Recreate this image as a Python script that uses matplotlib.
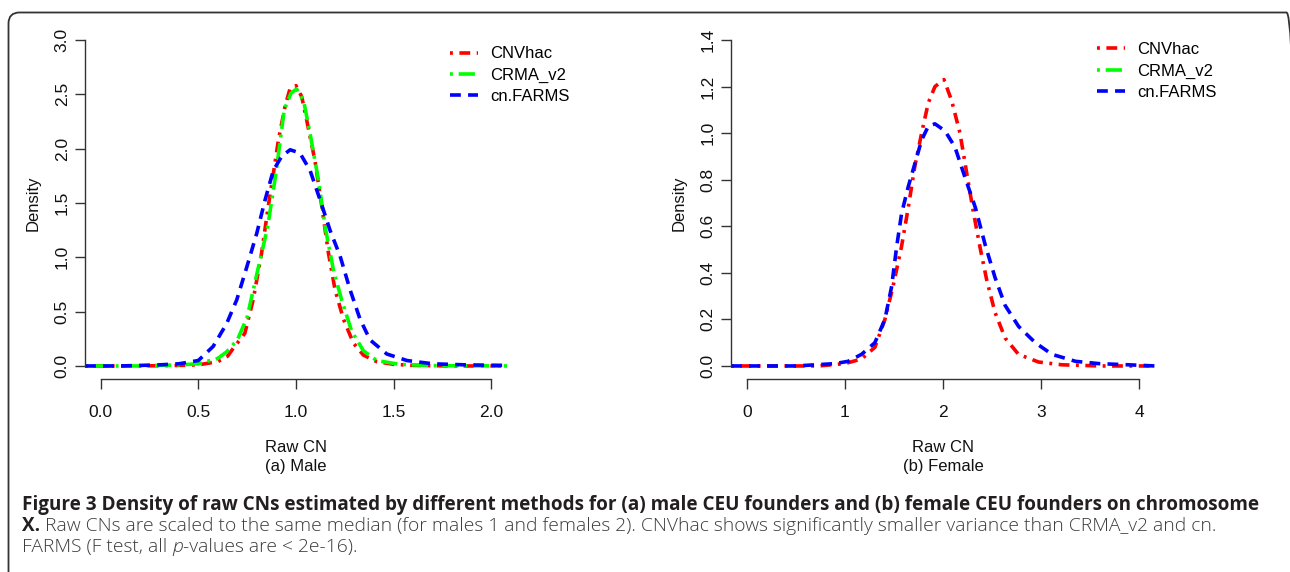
import matplotlib
matplotlib.use("Agg")
import matplotlib.pyplot as plt
from matplotlib.patches import FancyBboxPatch
from matplotlib.transforms import IdentityTransform

plt.rcParams['font.family'] = ['Liberation Sans', 'DejaVu Sans']

# --- données ---
methodes = ["CNVhac", "CRMA_v2", "cn.FARMS"]

# (a) Male
male_x_cnvhac = [-0.08, 0.0, 0.2, 0.4, 0.5, 0.6, 0.65, 0.678, 0.738, 0.781, 0.824, 0.858, 0.884,
                 0.91, 0.944, 0.969, 1.0, 1.029, 1.055, 1.097, 1.132, 1.166, 1.2, 1.243, 1.294,
                 1.345, 1.413, 1.5, 1.6, 1.8, 2.08]
male_y_cnvhac = [0, 0, 0, 0.005, 0.01, 0.04, 0.09, 0.16, 0.30, 0.61, 1.04, 1.47, 1.77,
                 2.08, 2.39, 2.55, 2.58, 2.48, 2.26, 1.89, 1.47, 1.04, 0.70, 0.43, 0.21,
                 0.10, 0.04, 0.015, 0.005, 0.0, 0.0]

male_x_crma = [-0.08, 0.2, 0.4, 0.5, 0.6, 0.645, 0.70, 0.75, 0.80, 0.855, 0.897, 0.94, 0.974,
               1.003, 1.039, 1.072, 1.115, 1.149, 1.192, 1.235, 1.285, 1.345, 1.413, 1.53, 1.7, 2.08]
male_y_crma = [0, 0, 0.01, 0.02, 0.07, 0.13, 0.24, 0.45, 0.85, 1.28, 1.77, 2.36, 2.51,
               2.55, 2.44, 2.14, 1.71, 1.28, 0.88, 0.60, 0.32, 0.14, 0.05, 0.015, 0.003, 0]

male_x_farms = [-0.08, 0.1, 0.3, 0.4, 0.5, 0.576, 0.645, 0.697, 0.748, 0.799, 0.842, 0.884, 0.927,
                0.97, 1.02, 1.072, 1.123, 1.174, 1.226, 1.277, 1.328, 1.379, 1.465, 1.568, 1.7,
                1.87, 2.08]
male_y_farms = [0, 0, 0.01, 0.02, 0.05, 0.18, 0.39, 0.61, 0.91, 1.22, 1.53, 1.80, 1.93,
                1.99, 1.96, 1.80, 1.53, 1.25, 1.01, 0.70, 0.43, 0.24, 0.11, 0.05, 0.02,
                0.01, 0.005]

# (b) Female (CRMA_v2 non visible sur la figure)
female_x_cnvhac = [-0.16, 0.5, 0.73, 1.0, 1.17, 1.306, 1.408, 1.49, 1.576, 1.646, 1.714, 1.782,
                   1.85, 1.918, 2.01, 2.088, 2.173, 2.241, 2.31, 2.377, 2.445, 2.53, 2.633,
                   2.769, 2.973, 3.21, 3.6, 4.16]
female_y_cnvhac = [0, 0, 0, 0.01, 0.03, 0.08, 0.20, 0.34, 0.51, 0.68, 0.86, 1.00,
                   1.13, 1.20, 1.23, 1.14, 1.00, 0.83, 0.66, 0.51, 0.37, 0.23, 0.12,
                   0.05, 0.017, 0.005, 0, 0]

female_x_farms = [-0.16, 0.5, 0.898, 1.034, 1.17, 1.306, 1.408, 1.476, 1.527, 1.578, 1.646, 1.714,
                  1.782, 1.85, 1.918, 2.02, 2.122, 2.224, 2.33, 2.43, 2.53, 2.633, 2.77,
                  2.94, 3.11, 3.35, 3.59, 3.89, 4.16]
female_y_farms = [0, 0, 0.01, 0.02, 0.05, 0.10, 0.20, 0.34, 0.51, 0.655, 0.77, 0.87,
                  0.97, 1.03, 1.04, 1.01, 0.94, 0.81, 0.68, 0.52, 0.38, 0.26, 0.17,
                  0.10, 0.05, 0.02, 0.01, 0.005, 0.0]

# styles façon R (lty 4, 6, 2)
styles = {
    "CNVhac": dict(color="#ff0000", linestyle=(0, (0.8, 1.8, 3, 1.8))),
    "CRMA_v2": dict(color="#00ff00", linestyle=(0, (0.8, 1.6, 4.5, 1.6))),
    "cn.FARMS": dict(color="#0000ff", linestyle=(0, (3, 2))),
}

W, H = 1290, 572
fig = plt.figure(figsize=(W / 100, H / 100), dpi=100)


def axes_px(x0, x1, y0, y1):
    return fig.add_axes([x0 / W, 1 - y1 / H, (x1 - x0) / W, (y1 - y0) / H])


def style_axes(ax, xmax, ymax, yticks, xticks, xfmt, yfmt):
    ax.set_xlim(-0.04 * xmax, 1.04 * xmax)
    ax.set_ylim(-0.04 * ymax, 1.04 * ymax)
    for s in ["top", "right"]:
        ax.spines[s].set_visible(False)
    ax.spines["left"].set_bounds(0, ymax)
    ax.spines["bottom"].set_bounds(0, xmax)
    for s in ["left", "bottom"]:
        ax.spines[s].set_color("#333333")
        ax.spines[s].set_linewidth(1.0)
    ax.set_xticks(xticks)
    ax.set_xticklabels([xfmt.format(v) for v in xticks])
    ax.set_yticks(yticks)
    ax.set_yticklabels([yfmt.format(v) for v in yticks], rotation=90, va="center")
    ax.tick_params(axis="both", direction="out", length=7, width=1.0, color="#333333",
                   labelsize=12.5, labelcolor="#111111")
    ax.tick_params(axis="x", pad=12)
    ax.tick_params(axis="y", pad=4)
    ax.set_ylabel("Density", fontsize=12, labelpad=10, color="#111111")


def legende(ax, x, y):
    ax.legend(loc="upper left", bbox_to_anchor=(x, y), frameon=False, fontsize=12,
              handlelength=1.7, handletextpad=0.7, labelspacing=0.38, borderpad=0,
              borderaxespad=0)


lw = 2.6

# --- (a) Male ---
ax1 = axes_px(85, 507, 27, 379)
ax1.plot(male_x_cnvhac, male_y_cnvhac, lw=lw, label=methodes[0], **styles["CNVhac"])
ax1.plot(male_x_crma, male_y_crma, lw=lw, label=methodes[1], **styles["CRMA_v2"])
ax1.plot(male_x_farms, male_y_farms, lw=lw, label=methodes[2], **styles["cn.FARMS"])
style_axes(ax1, 2.0, 3.0, [0, 0.5, 1.0, 1.5, 2.0, 2.5, 3.0], [0, 0.5, 1.0, 1.5, 2.0],
           "{:.1f}", "{:.1f}")
ax1.set_xlabel("Raw CN\n(a) Male", fontsize=12, labelpad=14, linespacing=1.35,
               color="#111111")
legende(ax1, 0.865, 0.945)

# --- (b) Female ---
ax2 = axes_px(731, 1155, 27, 379)
ax2.plot(female_x_cnvhac, female_y_cnvhac, lw=lw, label=methodes[0], **styles["CNVhac"])
ax2.plot([], [], lw=lw, label=methodes[1], **styles["CRMA_v2"])
ax2.plot(female_x_farms, female_y_farms, lw=lw, label=methodes[2], **styles["cn.FARMS"])
style_axes(ax2, 4.0, 1.4, [0, 0.2, 0.4, 0.6, 0.8, 1.0, 1.2, 1.4], [0, 1, 2, 3, 4],
           "{:d}", "{:.1f}")
ax2.set_xlabel("Raw CN\n(b) Female", fontsize=12, labelpad=14, linespacing=1.35,
               color="#111111")
legende(ax2, 0.863, 0.957)

# --- cadre arrondi ---
cadre = FancyBboxPatch((8.5, -40), 1289, (H - 12.5) + 40,
                       boxstyle="round,pad=0,rounding_size=11",
                       transform=IdentityTransform(), fill=False,
                       edgecolor="#333333", linewidth=1.3, zorder=0)
fig.patches.append(cadre)

# --- légende de la figure ---
renderer = fig.canvas.get_renderer()
cap_font = ["Open Sans", "DejaVu Sans"]


def ecrire(x, baseline, morceaux):
    for texte, kw in morceaux:
        t = fig.text(x, H - baseline, texte, transform=IdentityTransform(),
                     va="baseline", ha="left", family=cap_font, **kw)
        x += t.get_window_extent(renderer=renderer).width


gras = dict(weight="bold", color="#231f20", fontsize=13.6)
leger = dict(weight="light", color="#3c3c3c", fontsize=13.9)
ecrire(22, 510, [("Figure 3 Density of raw CNs estimated by different methods for (a) male "
                  "CEU founders and (b) female CEU founders on chromosome", gras)])
ecrire(22, 531, [("X.", gras),
                 (" Raw CNs are scaled to the same median (for males 1 and females 2). CNVhac "
                  "shows significantly smaller variance than CRMA_v2 and cn.", leger)])
ecrire(22, 552, [("FARMS (F test, all ", leger),
                 ("p", dict(leger, style="italic")),
                 ("-values are < 2e-16).", leger)])

fig.savefig("out.png", dpi=100)
